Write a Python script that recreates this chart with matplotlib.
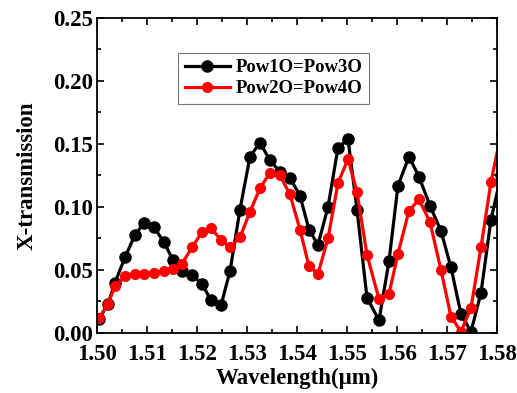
import matplotlib
matplotlib.use("Agg")
import matplotlib.pyplot as plt
from matplotlib.ticker import MultipleLocator

# wavelength grid (um)
wavelength = [1.5004, 1.5022, 1.5036, 1.5056, 1.5076, 1.5094, 1.5114, 1.5134, 1.5152, 1.5170,
              1.5190, 1.5210, 1.5228, 1.5248, 1.5266, 1.5286, 1.5306, 1.5326, 1.5346, 1.5366,
              1.5386, 1.5406, 1.5424, 1.5442, 1.5462, 1.5482, 1.5502, 1.5520, 1.5540, 1.5564,
              1.5584, 1.5602, 1.5624, 1.5644, 1.5666, 1.5688, 1.5708, 1.5728, 1.5748, 1.5768,
              1.5788, 1.5808]

# Pow1O=Pow3O
black_y = [0.011, 0.023, 0.040, 0.060, 0.078, 0.087, 0.084, 0.072, 0.058, 0.049,
           0.046, 0.039, 0.026, 0.022, 0.049, 0.098, 0.140, 0.151, 0.137, 0.128,
           0.123, 0.109, 0.082, 0.070, 0.100, 0.147, 0.154, 0.098, 0.028, 0.010,
           0.057, 0.117, 0.140, 0.124, 0.101, 0.081, 0.052, 0.015, 0.001, 0.032,
           0.090, 0.125]

# Pow2O=Pow4O
red_y = [0.012, 0.023, 0.037, 0.045, 0.047, 0.047, 0.048, 0.049, 0.051, 0.055,
         0.068, 0.080, 0.083, 0.074, 0.068, 0.076, 0.096, 0.115, 0.127, 0.125,
         0.110, 0.082, 0.053, 0.047, 0.075, 0.119, 0.138, 0.112, 0.062, 0.027,
         0.031, 0.063, 0.097, 0.106, 0.088, 0.050, 0.013, 0.001, 0.020, 0.068,
         0.120, 0.158]

plt.rcParams['font.family'] = ['Liberation Serif', 'DejaVu Serif']
plt.rcParams['font.weight'] = 'bold'

fig = plt.figure(figsize=(5.17, 3.93), dpi=100)
ax = fig.add_axes([0.1876, 0.1527, 0.7737, 0.8015])

ax.plot(wavelength, black_y, color='black', lw=2.3, marker='o', ms=8,
        label='Pow1O=Pow3O')
ax.plot(wavelength, red_y, color='#ff0000', lw=2.3, marker='o', ms=7,
        label='Pow2O=Pow4O')

ax.set_xlim(1.50, 1.58)
ax.set_ylim(0.0, 0.25)
ax.xaxis.set_major_locator(MultipleLocator(0.01))
ax.xaxis.set_minor_locator(MultipleLocator(0.005))
ax.yaxis.set_major_locator(MultipleLocator(0.05))
ax.yaxis.set_minor_locator(MultipleLocator(0.025))
ax.xaxis.set_major_formatter(plt.FormatStrFormatter('%.2f'))
ax.yaxis.set_major_formatter(plt.FormatStrFormatter('%.2f'))

ax.tick_params(which='both', direction='in', top=True, right=True, width=1.2)
ax.tick_params(which='major', length=5, labelsize=16.5)
ax.tick_params(axis='x', which='major', pad=8)
ax.tick_params(axis='y', which='major', pad=3)
ax.tick_params(which='minor', length=3)
for s in ax.spines.values():
    s.set_linewidth(1.3)

ax.set_xlabel('Wavelength(μm)', fontsize=16.5, fontweight='bold', labelpad=2)
ax.set_ylabel('X-transmission', fontsize=16.5, fontweight='bold', labelpad=11)

leg = ax.legend(loc='upper left', bbox_to_anchor=(0.18, 0.92), fontsize=13.5,
                fancybox=False, edgecolor='#555555', handlelength=2.4,
                borderpad=0.35, labelspacing=0.2, handletextpad=0.3)
leg.get_frame().set_linewidth(0.8)

fig.savefig('out.png', dpi=100)
